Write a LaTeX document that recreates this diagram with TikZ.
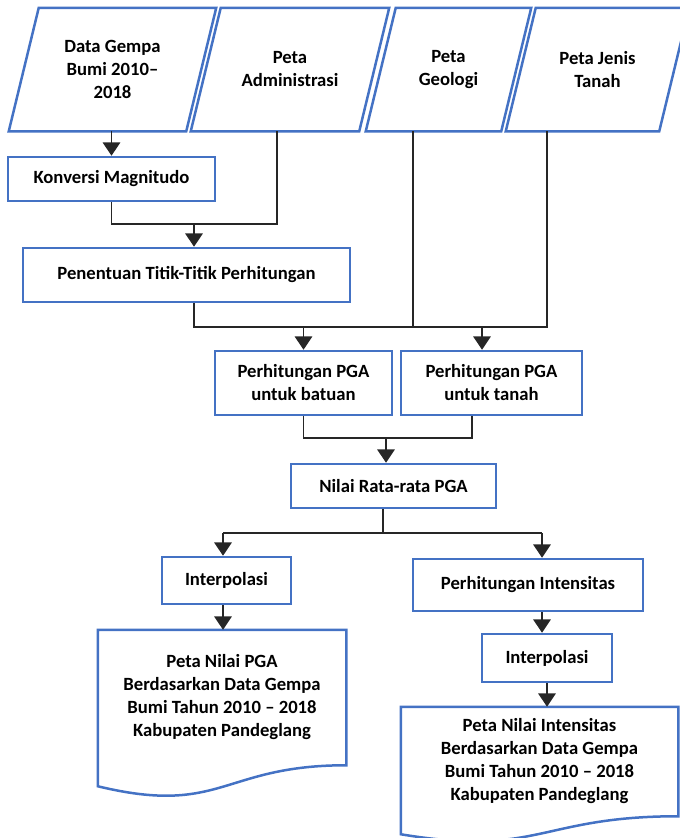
\documentclass[tikz,border=0pt]{standalone}
\usepackage{fontspec}
\setmainfont{Carlito}
\usepackage{tikz}
\usetikzlibrary{arrows.meta,calc}
\definecolor{kotak}{HTML}{4472C4}

\begin{document}
\begin{tikzpicture}[x=0.6pt,y=-0.6pt,
    proses/.style={draw=kotak, line width=1.5pt, rectangle, align=center, inner sep=0pt,
      font=\bfseries\fontsize{11.2}{13.8}\selectfont},
    hasil/.style={proses, draw=none},
    tepi/.style={draw=kotak, line width=1.5pt},
    garis/.style={draw=black!85, line width=0.7pt},
    panah/.style={garis, -{Triangle[length=8pt,width=10.5pt]}}]

    \useasboundingbox (0,0) rectangle (680,838);

    \node[hasil, minimum width=105pt, minimum height=72.6pt] (gempa) at (112.5,69.5) {Data Gempa\\Bumi 2010–\\2018};
    \node[hasil, minimum width=99.6pt, minimum height=72.6pt] (admin) at (290,69.5) {Peta\\Administrasi};
    \node[hasil, minimum width=79.8pt, minimum height=72.6pt] (geologi) at (448.5,69.5) {Peta\\Geologi};
    \node[hasil, minimum width=90.6pt, minimum height=72.6pt] (tanah) at (597.5,69.5) {Peta Jenis\\Tanah};

    \foreach \n in {gempa,admin,geologi,tanah}
      \draw[tepi] ($(\n.south west)+(-15,0)$) -- ($(\n.south east)+(-15,0)$)
        -- ($(\n.north east)+(15,0)$) -- ($(\n.north west)+(15,0)$) -- cycle;

    \node[proses, minimum width=124.2pt, minimum height=26.4pt] (konversi) at (111.5,179) {Konversi Magnitudo};
    \node[proses, minimum width=196.2pt, minimum height=32.4pt] (titik) at (186.5,275) {Penentuan Titik-Titik Perhitungan};
    \node[proses, minimum width=106.2pt, minimum height=38.4pt] (batuan) at (303.5,383) {Perhitungan PGA\\untuk batuan};
    \node[proses, minimum width=108.6pt, minimum height=38.4pt] (tanahpga) at (491.5,383) {Perhitungan PGA\\untuk tanah};
    \node[proses, minimum width=123pt, minimum height=26.4pt] (rerata) at (393.5,486) {Nilai Rata-rata PGA};
    \node[proses, minimum width=77.4pt, minimum height=28.2pt] (interpa) at (226.5,580.5) {Interpolasi};
    \node[proses, minimum width=138pt, minimum height=31.2pt] (intensitas) at (528,585) {Perhitungan Intensitas};
    \node[proses, minimum width=78pt, minimum height=28.8pt] (interpb) at (547,658) {Interpolasi};

    \node[hasil, minimum width=147.6pt, minimum height=79.8pt] (petapga) at (222,697.5) {Peta Nilai PGA\\Berdasarkan Data Gempa\\Bumi Tahun 2010 – 2018\\Kabupaten Pandeglang};
    \node[hasil, minimum width=165pt, minimum height=64.2pt] (petaint) at (539.5,761.5) {Peta Nilai Intensitas\\Berdasarkan Data Gempa\\Bumi Tahun 2010 – 2018\\Kabupaten Pandeglang};

    \draw[tepi] (petapga.north west) -- (petapga.north east) -- (petapga.south east)
      .. controls (petapga.south) and ($(petapga.south)+(0,51)$) .. ($(petapga.south west)+(0,21)$) -- cycle;
    \draw[tepi] (petaint.north west) -- (petaint.north east) -- (petaint.south east)
      .. controls (petaint.south) and ($(petaint.south)+(0,41)$) .. ($(petaint.south west)+(0,18)$) -- cycle;

    \coordinate (j1) at (194,224);
    \coordinate (j2) at (277,224);
    \coordinate (j3) at (413,327);
    \coordinate (j4) at (547,327);
    \coordinate (j5) at (482,327);
    \coordinate (j6) at (386,438);
    \coordinate (j7) at (472,438);
    \coordinate (j8) at (383,533);
    \coordinate (j9) at (223,533);
    \coordinate (j10) at (542,533);

    \draw[panah] (gempa.south -| konversi) -- (konversi.north);

    \draw[garis] (konversi.south) |- (j2) -- (admin.south -| j2);
    \draw[panah] (j1) -- (titik.north -| j1);

    \draw[garis] (titik.south -| j1) |- (j4) -- (tanah.south -| j4);
    \draw[garis] (geologi.south -| j3) -- (j3);
    \draw[panah] (batuan.north |- j3) -- (batuan.north);
    \draw[panah] (j5) -- (tanahpga.north -| j5);

    \draw[garis] (batuan.south) |- (j7) -- (tanahpga.south -| j7);
    \draw[panah] (j6) -- (rerata.north -| j6);

    \draw[garis] (rerata.south -| j8) -- (j8);
    \draw[garis] (j9) -- (j10);
    \draw[panah] (j9) -- (interpa.north -| j9);
    \draw[panah] (j10) -- (intensitas.north -| j10);

    \draw[panah] (interpa.south -| j9) -- (petapga.north -| j9);
    \draw[panah] (intensitas.south -| j10) -- (interpb.north -| j10);
    \draw[panah] (interpb.south) -- (petaint.north -| interpb);
\end{tikzpicture}
\end{document}
